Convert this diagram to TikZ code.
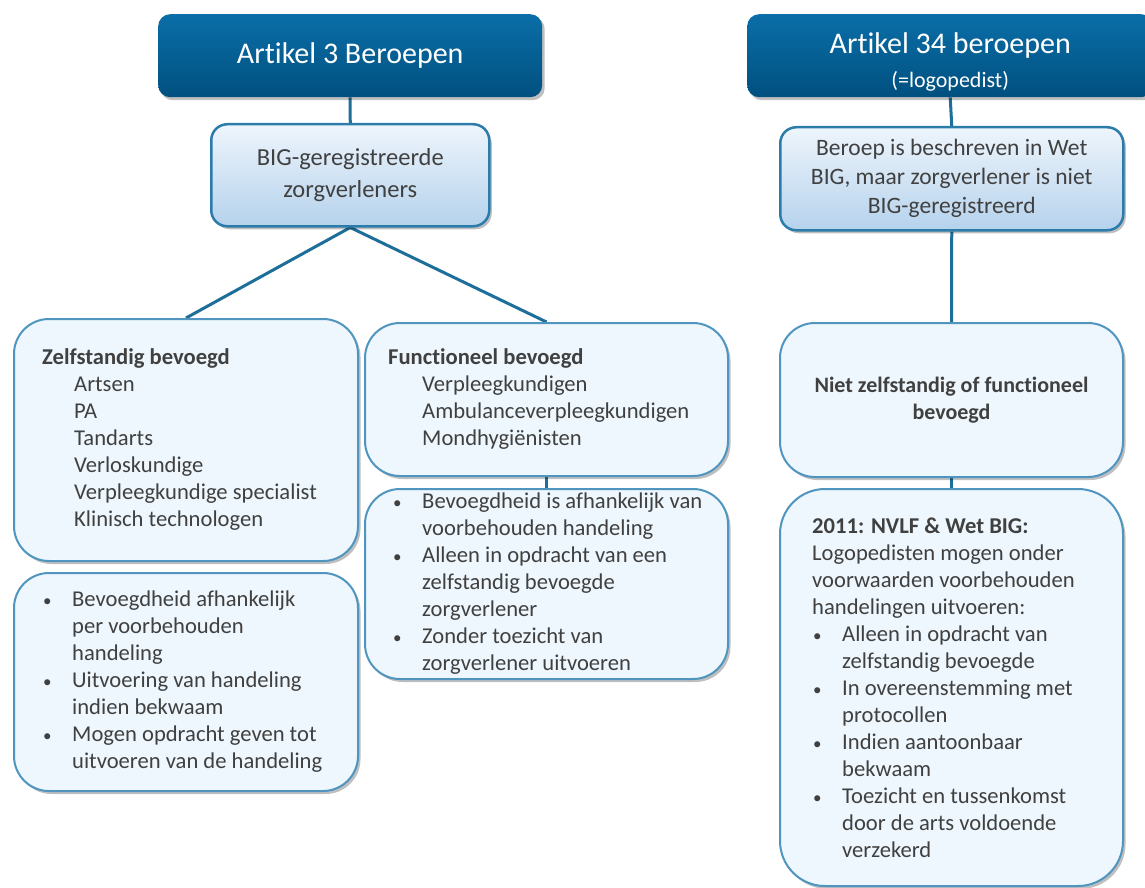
\documentclass[tikz,border=0pt]{standalone}
\usepackage{fontspec}
\setmainfont{Carlito}[Ligatures=CommonOff]
\usetikzlibrary{shadows,backgrounds}
\definecolor{ttop}{HTML}{0B6EA8}
\definecolor{tbot}{HTML}{00507F}
\definecolor{btop}{HTML}{EEF5FC}
\definecolor{bbot}{HTML}{B5D2EC}
\definecolor{bedge}{HTML}{2B7CAB}
\definecolor{sfill}{HTML}{EEF7FD}
\definecolor{sedge}{HTML}{4F95BF}
\definecolor{lineblue}{HTML}{1E6E9A}
\definecolor{txt}{HTML}{404040}
\newcommand{\bul}{\makebox[30pt][l]{\hspace{1pt}{\fontsize{17}{17}\selectfont\textbullet}}}
\newcommand{\ind}{\hspace*{30pt}}
\tikzset{
  shad/.style={drop shadow={shadow xshift=2.5pt,shadow yshift=-3pt,opacity=.25,fill=black}},
  conn/.style={draw=lineblue,line width=3pt},
  titlebox/.style={anchor=north west,inner sep=0pt,rounded corners=12pt,top color=ttop,bottom color=tbot,text=white,align=center,shad},
  bigbox/.style={anchor=north west,inner sep=0pt,rounded corners=16pt,top color=btop,bottom color=bbot,draw=bedge,line width=2.5pt,text=txt,align=center,shad},
  softbox/.style={anchor=north west,inner ysep=0pt,fill=sfill,draw=sedge,line width=2pt,text=txt,shad},
  bodytext/.style={anchor=west,inner sep=0pt,align=left,text=txt,font=\fontsize{22.6}{27}\selectfont},
}
\begin{document}
\begin{tikzpicture}[x=1pt,y=-1pt]
\useasboundingbox (0,0) rectangle (1145,888);
\clip (0,0) rectangle (1145,888);

\node[titlebox, minimum width=384, minimum height=83, font=\fontsize{30}{34}\selectfont] (t1) at (158,14) {Artikel 3 Beroepen};
\node[titlebox, minimum width=406, minimum height=83] (t2) at (747,14) {};
\node[text=white, align=center, inner sep=0pt, font=\fontsize{30}{34}\selectfont] (t2t) at ([yshift=-6pt]t2.center) {Artikel 34 beroepen\\{\fontsize{22}{26}\selectfont(=logopedist)}};

\node[bigbox, minimum width=278, minimum height=102, font=\fontsize{24.5}{32}\selectfont] (big) at (210,123) {BIG-geregistreerde\\zorgverleners};
\node[bigbox, minimum width=343, minimum height=103, font=\fontsize{23.5}{29}\selectfont] (beroep) at (779,126) {Beroep is beschreven in Wet\\BIG, maar zorgverlener is niet\\BIG-geregistreerd};

\node[softbox, rounded corners=35pt, minimum width=344, minimum height=242] (zelf) at (13,318) {};
\node[bodytext] (zelft) at ([xshift=29pt]zelf.west) {\textbf{Zelfstandig bevoegd}\\\hspace*{32pt}Artsen\\\hspace*{32pt}PA\\\hspace*{32pt}Tandarts\\\hspace*{32pt}Verloskundige\\\hspace*{32pt}Verpleegkundige specialist\\\hspace*{32pt}Klinisch technologen};

\node[softbox, rounded corners=35pt, minimum width=344, minimum height=218] (zelfb) at (13,572) {};
\node[bodytext] (zelfbt) at ([xshift=29pt]zelfb.west) {\bul Bevoegdheid afhankelijk\\\ind per voorbehouden\\\ind handeling\\\bul Uitvoering van handeling\\\ind indien bekwaam\\\bul Mogen opdracht geven tot\\\ind uitvoeren van de handeling};

\node[softbox, rounded corners=35pt, minimum width=363, minimum height=153] (func) at (364,322) {};
\node[bodytext] (funct) at ([xshift=24pt]func.west) {\textbf{Functioneel bevoegd}\\\hspace*{34pt}Verpleegkundigen\\\hspace*{34pt}Ambulanceverpleegkundigen\\\hspace*{34pt}Mondhygiënisten};

\node[softbox, rounded corners=35pt, minimum width=363, minimum height=190] (funcb) at (364,488) {};
\node[bodytext] (funcbt) at ([xshift=28pt]funcb.west) {\bul Bevoegdheid is afhankelijk van\\\ind voorbehouden handeling\\\bul Alleen in opdracht van een\\\ind zelfstandig bevoegde\\\ind zorgverlener\\\bul Zonder toezicht van\\\ind zorgverlener uitvoeren};

\node[softbox, rounded corners=35pt, minimum width=343, minimum height=154, align=center, font=\bfseries\fontsize{22}{27}\selectfont] (niet) at (779,322) {Niet zelfstandig of functioneel\\bevoegd};

\node[softbox, rounded corners=45pt, minimum width=343, minimum height=397] (nvlf) at (779,488) {};
\node[bodytext] (nvlft) at ([xshift=33pt]nvlf.west) {\textbf{2011: NVLF \& Wet BIG:}\\Logopedisten mogen onder\\voorwaarden voorbehouden\\handelingen uitvoeren:\\\bul Alleen in opdracht van\\\ind zelfstandig bevoegde\\\bul In overeenstemming met\\\ind protocollen\\\bul Indien aantoonbaar\\\ind bekwaam\\\bul Toezicht en tussenkomst\\\ind door de arts voldoende\\\ind verzekerd};

\begin{scope}[on background layer]
\fill[white] (0,0) rectangle (1145,888);
\draw[conn] (t1.south) -- (big.north);
\draw[conn] (big.south) -- (zelf.north);
\draw[conn] (big.south) -- (func.north);
\draw[conn] (func.south) -- (funcb.north);
\draw[conn] (t2.south) -- (beroep.north);
\draw[conn] (beroep.south) -- (niet.north);
\draw[conn] (niet.south) -- (nvlf.north);
\end{scope}
\end{tikzpicture}
\end{document}
